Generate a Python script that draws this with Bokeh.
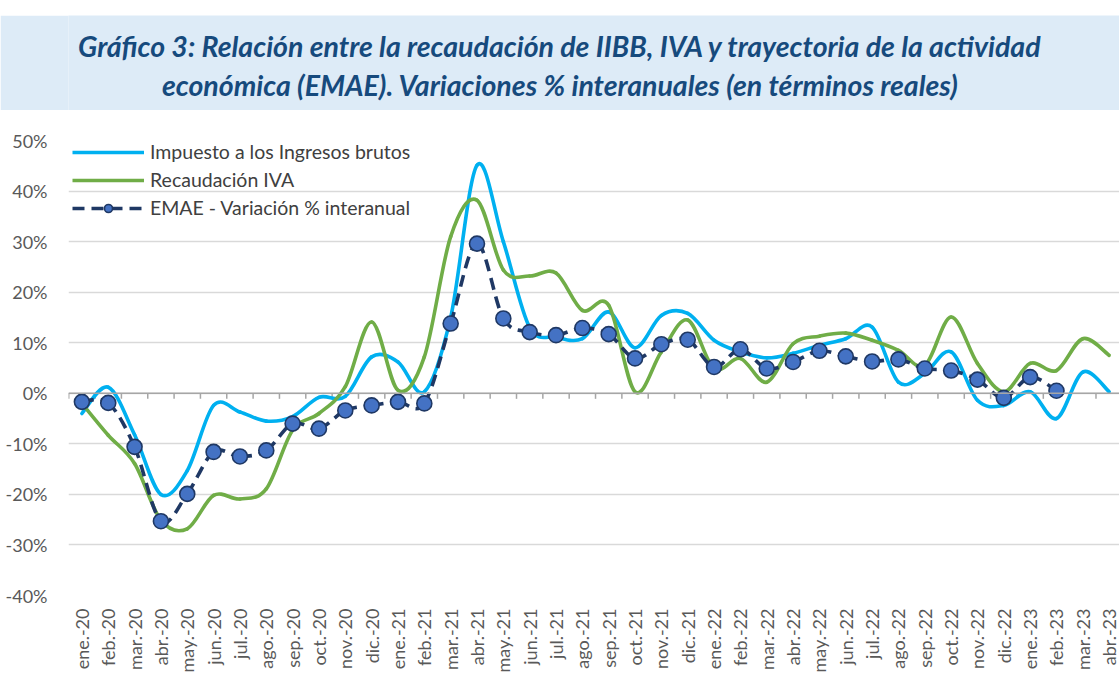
import numpy as np
from bokeh.plotting import figure
from bokeh.models import Range1d, FixedTicker, Span, Legend, LegendItem, Spacer
from bokeh.layouts import column
from bokeh.embed import file_html
from bokeh.resources import INLINE
from bokeh.core.properties import value

months = ["ene.-20", "feb.-20", "mar.-20", "abr.-20", "may.-20", "jun.-20", "jul.-20", "ago.-20",
          "sep.-20", "oct.-20", "nov.-20", "dic.-20", "ene.-21", "feb.-21", "mar.-21", "abr.-21",
          "may.-21", "jun.-21", "jul.-21", "ago.-21", "sep.-21", "oct.-21", "nov.-21", "dic.-21",
          "ene.-22", "feb.-22", "mar.-22", "abr.-22", "may.-22", "jun.-22", "jul.-22", "ago.-22",
          "sep.-22", "oct.-22", "nov.-22", "dic.-22", "ene.-23", "feb.-23", "mar.-23", "abr.-23"]

iibb = [-4.0, 1.2, -8.2, -20.0, -15.3, -2.4, -3.7, -5.5, -4.6, -0.8, -0.6, 7.2, 6.2, 0.3, 15.0, 45.1,
        30.0, 13.0, 11.1, 10.8, 16.1, 9.0, 15.4, 15.8, 10.5, 8.2, 7.0, 7.9, 9.5, 10.8, 13.1, 2.2,
        3.9, 8.2, -1.4, -2.4, 0.3, -5.0, 4.2, 0.3]

iva = [-2.0, -8.3, -13.9, -25.1, -26.8, -20.2, -20.9, -18.9, -7.3, -4.0, 1.3, 14.1, 0.6, 7.2, 31.0, 38.2,
       24.4, 23.2, 23.8, 16.4, 17.4, 0.3, 8.2, 14.5, 4.9, 6.9, 2.2, 9.8, 11.3, 11.9, 10.5, 8.5,
       5.5, 15.1, 5.9, 0.3, 5.9, 4.5, 10.8, 7.5]

emae = [-1.7, -1.9, -10.6, -25.3, -19.9, -11.6, -12.5, -11.3, -6.0, -7.0, -3.4, -2.4, -1.7, -2.0, 13.8, 29.6,
        14.8, 12.1, 11.5, 12.9, 11.7, 6.9, 9.7, 10.6, 5.2, 8.7, 4.9, 6.2, 8.4, 7.3, 6.3, 6.7,
        4.9, 4.5, 2.7, -0.9, 3.2, 0.5]

y_ticks = [-40, -30, -20, -10, 0, 10, 20, 30, 40, 50]

title_lines = ["Gráfico 3: Relación entre la recaudación de IIBB, IVA y trayectoria de la actividad",
               "económica (EMAE). Variaciones % interanuales (en términos reales)"]

names = ["Impuesto a los Ingresos brutos", "Recaudación IVA", "EMAE - Variación % interanual"]

C_IIBB = "#00B0F0"
C_IVA = "#70AD47"
C_EMAE = "#1F3864"
C_MARK = "#4472C4"
FONT = "Lato"

# layout constants (pixels)
W = 1119
LEFT = 68
FRAME_W = W - LEFT
FRAME_H = 455
STEP = 26.34


def smooth_segments(vals):
    """Bezier segments (Catmull-Rom style, like spreadsheet smoothed lines) through the data points."""
    y = np.asarray(vals, dtype=float)
    x = np.arange(len(y), dtype=float)
    xe = np.concatenate([[x[0]], x, [x[-1]]])
    ye = np.concatenate([[y[0]], y, [y[-1]]])
    i = np.arange(len(y) - 1)
    return dict(
        x0=xe[i + 1], y0=ye[i + 1], x1=xe[i + 2], y1=ye[i + 2],
        cx0=xe[i + 1] + (xe[i + 2] - xe[i]) / 6.0,
        cy0=ye[i + 1] + (ye[i + 2] - ye[i]) / 6.0,
        cx1=xe[i + 2] - (xe[i + 3] - xe[i + 1]) / 6.0,
        cy1=ye[i + 2] - (ye[i + 3] - ye[i + 1]) / 6.0,
    )


# ---------- title box (its frame uses page-pixel coordinates) ----------
t = figure(width=W, height=95, x_range=Range1d(LEFT, W), y_range=Range1d(110, 15),
           toolbar_location=None, output_backend="svg",
           min_border_left=LEFT, min_border_right=0, min_border_top=0, min_border_bottom=0)
t.axis.visible = False
t.grid.visible = False
t.outline_line_color = None
t.background_fill_color = "#DDEBF7"
t.border_fill_color = "#DDEBF7"
t.text(x=[560, 560], y=[45, 84], text=title_lines, text_align="center", text_baseline="middle",
       text_font=value(FONT), text_font_style="bold italic", text_font_size="28.5px", text_color="#164A7D")

# ---------- chart ----------
n = len(months)
x0 = -13.4 / STEP
p = figure(frame_width=FRAME_W, frame_height=FRAME_H,
           x_range=Range1d(x0, x0 + FRAME_W / STEP), y_range=Range1d(-40, 50),
           toolbar_location=None, output_backend="svg",
           min_border_left=LEFT, min_border_right=0, min_border_top=30, min_border_bottom=60)
p.outline_line_color = None
p.background_fill_color = "white"
p.border_fill_color = "white"

p.xgrid.grid_line_color = None
p.ygrid.ticker = FixedTicker(ticks=y_ticks)
p.ygrid.grid_line_color = "#D9D9D9"
p.ygrid.grid_line_width = 1.5

p.yaxis.ticker = FixedTicker(ticks=y_ticks)
p.yaxis.major_label_overrides = {v: f"{v}%" for v in y_ticks}
p.yaxis.axis_line_color = None
p.yaxis.major_tick_line_color = None
p.yaxis.minor_tick_line_color = None
p.yaxis.major_label_text_font = FONT
p.yaxis.major_label_text_font_size = "18px"
p.yaxis.major_label_text_color = "#595959"
p.yaxis.major_label_standoff = 15

p.xaxis.ticker = FixedTicker(ticks=list(range(n)))
p.xaxis.major_label_overrides = {i: m for i, m in enumerate(months)}
p.xaxis.major_label_orientation = np.pi / 2
p.xaxis.axis_line_color = None
p.xaxis.major_tick_line_color = None
p.xaxis.minor_tick_line_color = None
p.xaxis.major_label_text_font = FONT
p.xaxis.major_label_text_font_size = "18px"
p.xaxis.major_label_text_color = "#595959"
p.xaxis.major_label_standoff = 7

# zero axis line with category boundary ticks
p.add_layout(Span(location=0, dimension="width", line_color="#A6A6A6", line_width=1.5))
bounds = np.arange(n + 1) - 0.5
p.segment(x0=bounds, y0=np.zeros(n + 1), x1=bounds, y1=np.full(n + 1, -1.1),
          line_color="#A6A6A6", line_width=1.5)

# series
p.bezier(line_color=C_IIBB, line_width=3.6, line_cap="round", source=smooth_segments(iibb))
p.bezier(line_color=C_IVA, line_width=3.6, line_cap="round", source=smooth_segments(iva))
p.bezier(line_color=C_EMAE, line_width=3.6, line_dash="12 7", source=smooth_segments(emae))
p.scatter(x=np.arange(len(emae)), y=emae, marker="circle", size=15,
          fill_color=C_MARK, line_color=C_EMAE, line_width=1.6)

# legend: renderers that draw nothing in the plot (NaN data) but carry the legend styles
nan = [np.nan]
l1 = p.line(x=nan, y=nan, line_color=C_IIBB, line_width=3.6)
l2 = p.line(x=nan, y=nan, line_color=C_IVA, line_width=3.6)
l3 = p.line(x=nan, y=nan, line_color=C_EMAE, line_width=3.6, line_dash="12 7")
l3m = p.scatter(x=nan, y=nan, marker="circle", size=15, fill_color=C_MARK, line_color=C_EMAE, line_width=1.6)
legend = Legend(items=[LegendItem(label=names[0], renderers=[l1], index=0),
                       LegendItem(label=names[1], renderers=[l2], index=0),
                       LegendItem(label=names[2], renderers=[l3, l3m], index=0)],
                location=(4, 376), margin=0, padding=2, spacing=5,
                glyph_width=72, glyph_height=20, label_height=20, label_standoff=6,
                label_text_font=FONT, label_text_font_size="19.5px", label_text_color="#404040",
                border_line_color=None, background_fill_alpha=0)
p.add_layout(legend)

layout = column(Spacer(width=W, height=15), t, p, spacing=0)

open("out.html", "w").write(file_html(layout, INLINE))
